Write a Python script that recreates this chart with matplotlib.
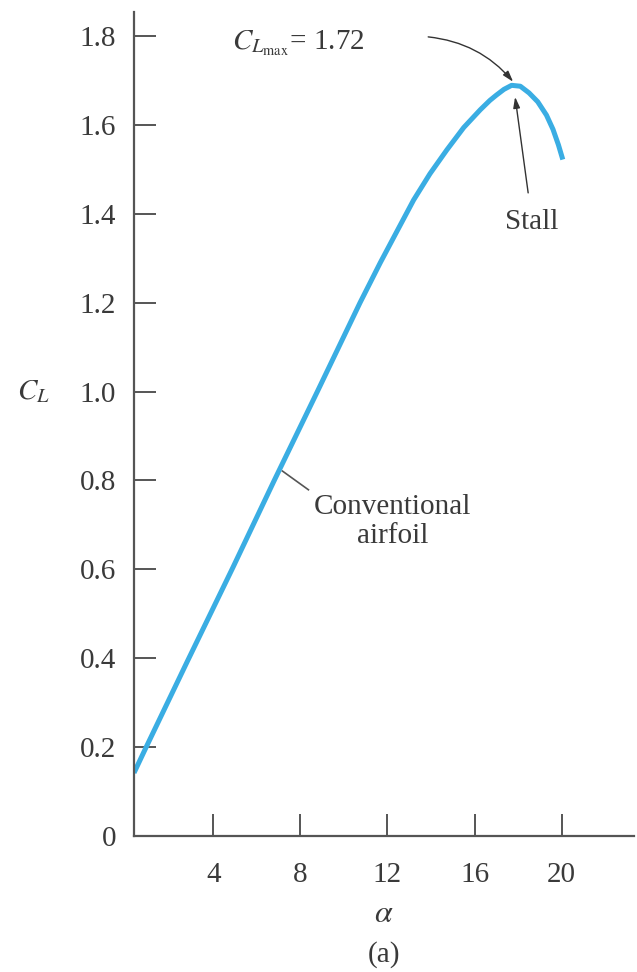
import matplotlib
matplotlib.use("Agg")
import matplotlib.pyplot as plt

# lift curve (alpha in degrees, C_L)
alpha = [0.36, 0.9, 2.81, 4.9, 6.8, 8.78, 10.74, 11.67, 12.45, 13.2, 13.95,
         14.73, 15.5, 16.26, 16.7, 17.0, 17.35, 17.7, 18.1, 18.5, 18.9,
         19.3, 19.6, 19.85, 20.05]
cl = [0.142, 0.198, 0.393, 0.604, 0.8, 1.0, 1.2, 1.29, 1.362, 1.431, 1.49,
      1.544, 1.594, 1.634, 1.655, 1.667, 1.680, 1.689, 1.687, 1.672, 1.652,
      1.622, 1.59, 1.555, 1.522]

xticks = [4, 8, 12, 16, 20]
yticks = [0, 0.2, 0.4, 0.6, 0.8, 1.0, 1.2, 1.4, 1.6, 1.8]
ytick_labels = ["0", "0.2", "0.4", "0.6", "0.8", "1.0", "1.2", "1.4", "1.6", "1.8"]

TXT = "#3a3a3a"
AX = "#555555"
BLUE = "#3aade3"

plt.rcParams["font.family"] = ["Liberation Serif", "DejaVu Serif"]
plt.rcParams["mathtext.fontset"] = "stix"
FS = 21

fig = plt.figure(figsize=(6.37, 9.72), dpi=100)
ax = fig.add_axes([134 / 637, 1 - 836 / 972, 500 / 637, 824 / 972])

ax.plot(alpha, cl, color=BLUE, lw=3.6, solid_capstyle="butt", solid_joinstyle="round")

ax.set_xlim(0.36, 23.32)
ax.set_ylim(0, 1.854)
for s in ("top", "right"):
    ax.spines[s].set_visible(False)
for s in ("left", "bottom"):
    ax.spines[s].set_color(AX)
    ax.spines[s].set_linewidth(1.6)

ax.set_xticks(xticks)
ax.set_xticklabels([str(t) for t in xticks])
ax.set_yticks(yticks)
ax.set_yticklabels(ytick_labels)
ax.tick_params(axis="both", direction="in", length=16, width=1.4, color=AX,
               labelcolor=TXT, labelsize=FS)
ax.tick_params(axis="x", pad=19)
ax.tick_params(axis="y", pad=13)

ax.set_xlabel(r"$\alpha$", fontsize=FS + 2, color=TXT)
ax.xaxis.set_label_coords(0.5, -0.078)
ax.set_ylabel(r"$C_L$", fontsize=FS, color=TXT, rotation=0, ha="center", va="center")
ax.yaxis.set_label_coords(-0.202, 0.539)

fig.text(384 / 637, 1 - 955 / 972, "(a)", fontsize=FS, color=TXT,
         ha="center", va="center")

arrow = dict(arrowstyle="-|>,head_length=0.65,head_width=0.2", color="#333333",
             lw=1.0, shrinkA=0, shrinkB=0)

# C_L max label with curved arrow
ax.text(4.88, 1.769, r"$C_{L_{\mathrm{max}}}$= 1.72", fontsize=FS, color=TXT,
        ha="left", va="baseline")
ax.annotate("", xy=(17.77, 1.697), xytext=(13.87, 1.798),
            arrowprops=dict(arrow, connectionstyle="arc3,rad=-0.2"))

# stall
ax.annotate("", xy=(17.86, 1.663), xytext=(18.46, 1.447), arrowprops=arrow)
ax.text(18.64, 1.381, "Stall", fontsize=FS, color=TXT, ha="center", va="center")

# conventional airfoil leader
ax.plot([7.18, 8.37], [0.821, 0.779], color=AX, lw=1.2)
ax.text(12.22, 0.707, "Conventional\nairfoil", fontsize=FS, color=TXT,
        ha="center", va="center", linespacing=1.15)

fig.savefig("out.png", dpi=100)
